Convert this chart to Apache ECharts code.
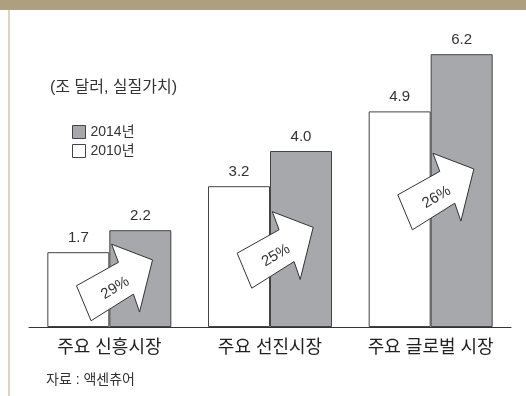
<!DOCTYPE html>
<html><head><meta charset="utf-8">
<script src="https://cdn.jsdelivr.net/npm/echarts@6/dist/echarts.min.js"></script>
<style>html,body{margin:0;padding:0;background:#fff}#c{width:526px;height:396px}</style>
</head><body><div id="c"></div>
<script>
// ---- data ----
const categories = ['주요 신흥시장', '주요 선진시장', '주요 글로벌 시장'];
const seriesNames = ['2010년', '2014년'];
const values2010 = [1.7, 3.2, 4.9];
const values2014 = [2.2, 4.0, 6.2];
const growthLabels = ['29%', '25%', '26%'];
const unitText = '(조 달러, 실질가치)';
const sourceText = '자료 : 액센츄어';

const FONT = '"Liberation Sans", "Noto Sans CJK KR", sans-serif';
const chart = echarts.init(document.getElementById('c'), null, {renderer: 'canvas'});

const option = {
  animation: false,
  backgroundColor: '#ffffff',
  textStyle: {fontFamily: FONT},
  grid: {left: 29, right: 15, top: 19, bottom: 69, containLabel: false},
  legend: {
    data: [seriesNames[1], seriesNames[0]],
    orient: 'vertical',
    left: 67, top: 120,
    itemWidth: 13, itemHeight: 13, itemGap: 5,
    icon: 'rect',
    selectedMode: false,
    textStyle: {fontSize: 14, color: '#333', fontFamily: FONT, padding: [0, 0, 0, 0]},
    itemStyle: {borderColor: '#444', borderWidth: 1}
  },
  xAxis: {
    type: 'category',
    data: categories,
    axisTick: {show: false},
    axisLine: {lineStyle: {color: '#333', width: 1}},
    axisLabel: {interval: 0, hideOverlap: false, fontSize: 18, color: '#222', margin: 12, fontFamily: FONT}
  },
  yAxis: {type: 'value', min: 0, max: 7, show: false, splitLine: {show: false}},
  series: [
    {
      name: seriesNames[0], type: 'bar', data: values2010,
      barWidth: 62, barGap: '0%',
      itemStyle: {color: '#ffffff', borderColor: '#444', borderWidth: 1},
      label: {show: true, position: 'top', distance: 7, fontSize: 15, color: '#333', fontFamily: FONT,
              formatter: p => p.value.toFixed(1)}
    },
    {
      name: seriesNames[1], type: 'bar', data: values2014,
      barWidth: 62, barGap: '0%',
      itemStyle: {color: '#a7a8ab', borderColor: '#444', borderWidth: 1},
      label: {show: true, position: 'top', distance: 7, fontSize: 15, color: '#333', fontFamily: FONT,
              formatter: p => p.value.toFixed(1)}
    }
  ]
};
chart.setOption(option);

// ---- decorations & growth arrows (annotations anchored through the axes) ----
const arrowAnchorFrac = [0.6, 0.55, 0.63]; // arrow centre height relative to the 2010 bar
const arrowShape = [[-38,-18],[10,-16.5],[13.5,-35.5],[40.5,-1],[2.5,37],[6.5,18.5],[-43.5,19.5]];
const graphics = [
  {type: 'rect', shape: {x: 0, y: 0, width: 526, height: 10}, style: {fill: '#ae9f80'}, z: 10},
  {type: 'rect', shape: {x: 8, y: 10, width: 2, height: 386}, style: {fill: '#ddd4c4'}, z: 10},
  {type: 'text', x: 50, y: 88, style: {text: unitText, fill: '#333', font: '16px ' + FONT, verticalAlign: 'middle', textAlign: 'left'}, z: 10},
  {type: 'text', x: 46, y: 380, style: {text: sourceText, fill: '#333', font: '14px ' + FONT, verticalAlign: 'middle', textAlign: 'left'}, z: 10}
];
categories.forEach((c, i) => {
  const p = chart.convertToPixel({gridIndex: 0}, [i, values2010[i] * arrowAnchorFrac[i]]);
  const rot = 31 * Math.PI / 180;
  const cx = p[0] + 9, cy = p[1] - 0.5;
  const toScreen = ([u, v]) => [cx + u * Math.cos(rot) + v * Math.sin(rot), cy - u * Math.sin(rot) + v * Math.cos(rot)];
  graphics.push({type: 'polygon', shape: {points: arrowShape.map(toScreen)}, style: {fill: '#fff', stroke: '#333', lineWidth: 1}, z: 20});
  const t = toScreen([-6, 4]);
  graphics.push({type: 'text', x: t[0], y: t[1], rotation: rot,
    style: {text: growthLabels[i], font: '15px ' + FONT, fill: '#333', textAlign: 'center', verticalAlign: 'middle'}, z: 21});
});
chart.setOption({graphic: graphics});
</script>
</body></html>
